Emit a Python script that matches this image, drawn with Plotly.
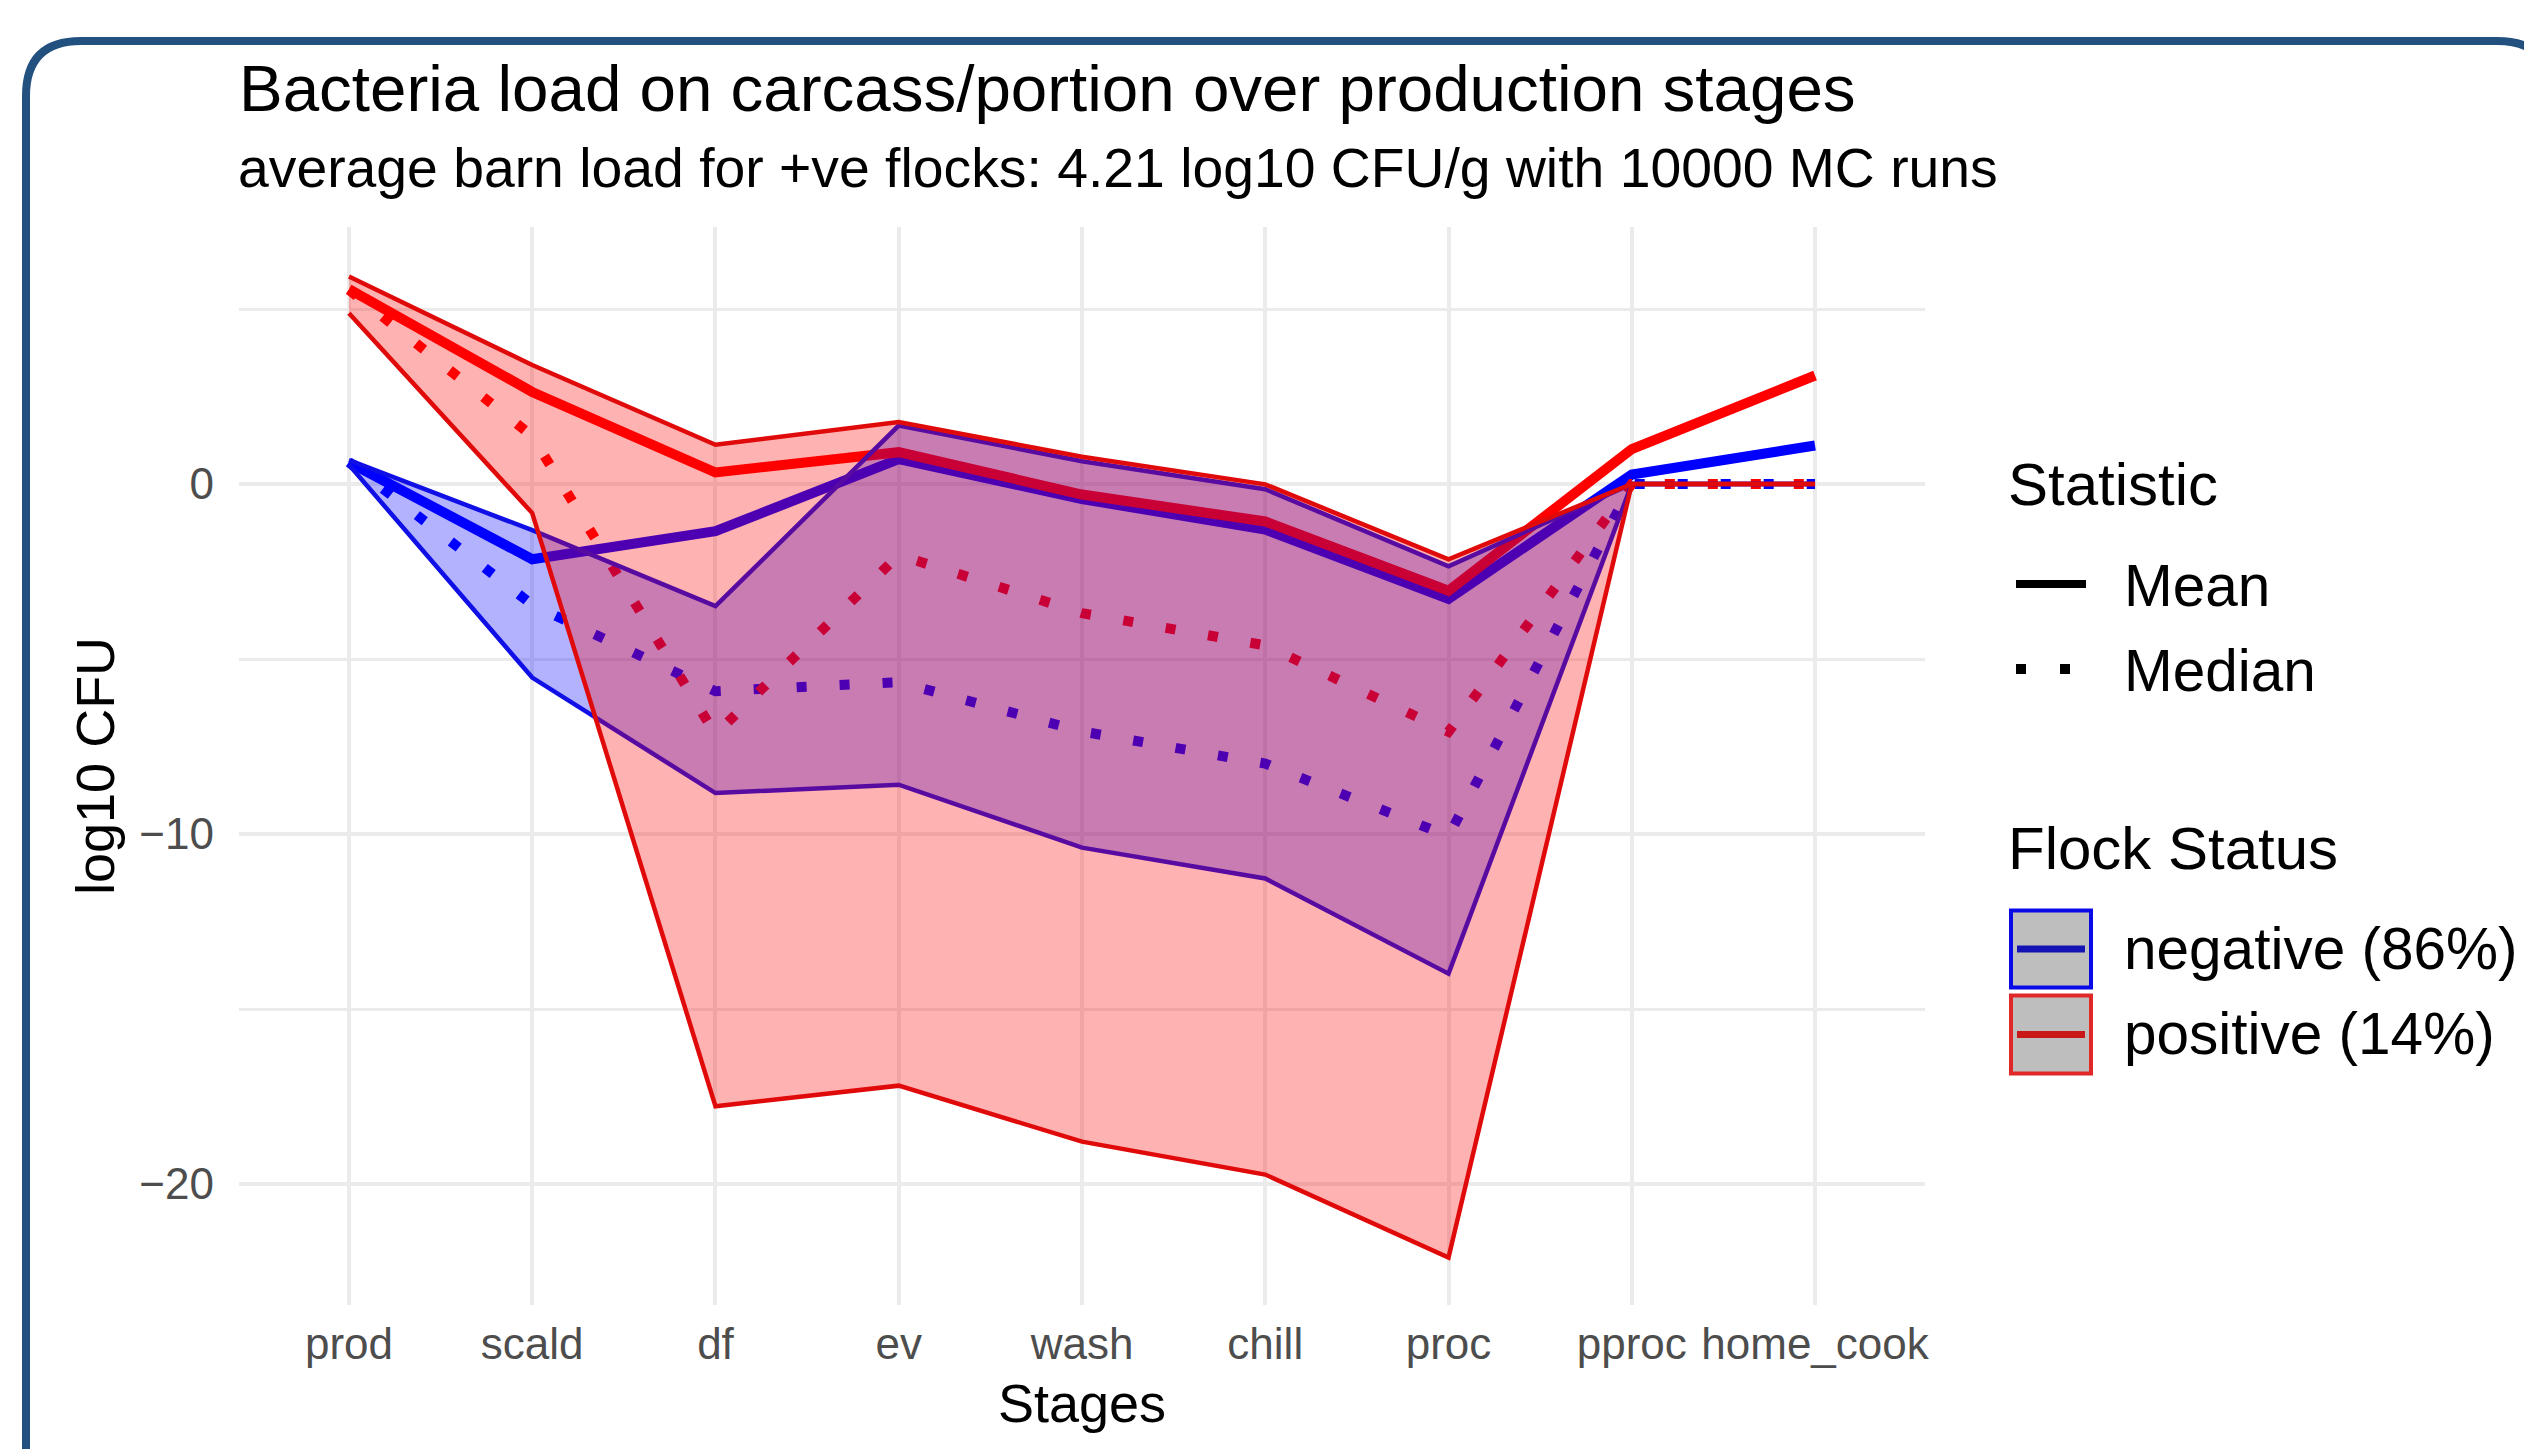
import plotly.graph_objects as go

# ---------------- data ----------------
stages = ["prod", "scald", "df", "ev", "wash", "chill", "proc", "pproc", "home_cook"]

neg_mean   = [0.62, -2.15, -1.35, 0.71, -0.43, -1.30, -3.28, 0.27, 1.10]
neg_median = [0.62, -3.45, -5.92, -5.66, -7.07, -7.99, -10.06, 0.0, 0.0]
neg_lower  = [0.55, -5.53, -8.83, -8.59, -10.39, -11.27, -13.99, 0.0, 0.0]
neg_upper  = [0.68, -1.32, -3.49, 1.67, 0.65, -0.15, -2.35, 0.0, 0.0]

pos_mean   = [5.57, 2.63, 0.33, 0.91, -0.30, -1.07, -3.05, 1.00, 3.10]
pos_median = [5.55, 1.37, -7.15, -2.03, -3.69, -4.61, -7.08, 0.0, 0.0]
pos_lower  = [4.88, -0.83, -17.78, -17.19, -18.79, -19.73, -22.10, 0.0, 0.0]
pos_upper  = [5.93, 3.40, 1.12, 1.77, 0.78, -0.01, -2.15, 0.0, 0.0]

y_ticks = [-20, -10, 0]
y_minor = [-15, -5, 5]

title_text = "Bacteria load on carcass/portion over production stages"
subtitle_text = "average barn load for +ve flocks: 4.21 log10 CFU/g with 10000 MC runs"
stat_title = "Statistic"
stat_labels = ["Mean", "Median"]
flock_title = "Flock Status"
flock_labels = ["negative (86%)", "positive (14%)"]

# ---------------- style ----------------
FONT = "Liberation Sans, Arial, sans-serif"
BLUE = "#0000FF"
RED = "#FF0000"
BLUE_OUT = "#1010E6"
RED_OUT = "#E00A0A"
MEAN_W = 10
MED_W = 10
MED_DASH = "10px,33px"
OUT_W = 4.5

# page is offset by the default 8px body margin
OFF = 8
PAGE_W, PAGE_H = 2532, 1449
WIDTH, HEIGHT = PAGE_W - OFF, PAGE_H - OFF
L, R, T, B = 239, 1925, 227, 1305          # plot area in page pixels
PW, PH = R - L, B - T


def px(x):
    return (x - L) / PW


def py(y):
    return (B - y) / PH


fig = go.Figure()

# lines first (ribbons drawn above them tint them, as in the original)
fig.add_trace(go.Scatter(x=stages, y=neg_mean, mode="lines",
                         line=dict(color=BLUE, width=MEAN_W), hoverinfo="skip", showlegend=False))
fig.add_trace(go.Scatter(x=stages, y=neg_median, mode="lines",
                         line=dict(color=BLUE, width=MED_W, dash=MED_DASH), hoverinfo="skip", showlegend=False))
fig.add_trace(go.Scatter(x=stages, y=pos_mean, mode="lines",
                         line=dict(color=RED, width=MEAN_W), hoverinfo="skip", showlegend=False))
fig.add_trace(go.Scatter(x=stages, y=pos_median, mode="lines",
                         line=dict(color=RED, width=MED_W, dash=MED_DASH), hoverinfo="skip", showlegend=False))

# ribbons
fig.add_trace(go.Scatter(x=stages, y=neg_lower, mode="lines",
                         line=dict(color=BLUE_OUT, width=OUT_W), hoverinfo="skip", showlegend=False))
fig.add_trace(go.Scatter(x=stages, y=neg_upper, mode="lines", fill="tonexty",
                         fillcolor="rgba(0,0,255,0.3)",
                         line=dict(color=BLUE_OUT, width=OUT_W), hoverinfo="skip", showlegend=False))
fig.add_trace(go.Scatter(x=stages, y=pos_lower, mode="lines",
                         line=dict(color=RED_OUT, width=OUT_W), hoverinfo="skip", showlegend=False))
fig.add_trace(go.Scatter(x=stages, y=pos_upper, mode="lines", fill="tonexty",
                         fillcolor="rgba(255,0,0,0.3)",
                         line=dict(color=RED_OUT, width=OUT_W), hoverinfo="skip", showlegend=False))

GRID = "#EBEBEB"
fig.update_xaxes(type="category", range=[-0.6, len(stages) - 0.4],
                 showgrid=True, gridcolor=GRID, gridwidth=3.5,
                 zeroline=False, showline=False, ticks="",
                 tickfont=dict(family=FONT, size=44, color="#4D4D4D"),
                 ticklabelstandoff=9)
fig.update_yaxes(range=[-23.457, 7.343], tickmode="array", tickvals=y_ticks,
                 showgrid=True, gridcolor=GRID, gridwidth=3.5,
                 zeroline=False, showline=False, ticks="",
                 tickfont=dict(family=FONT, size=44, color="#4D4D4D"),
                 ticklabelstandoff=24,
                 minor=dict(tickmode="array", tickvals=y_minor, showgrid=True,
                            gridcolor=GRID, gridwidth=2.5, ticks=""))

ann = []


def text(t, x, y, size, xanchor="left", yanchor="middle", angle=0, color="black"):
    ann.append(dict(text=t, x=px(x), y=py(y), xref="paper", yref="paper",
                    xanchor=xanchor, yanchor=yanchor, showarrow=False, textangle=angle,
                    font=dict(family=FONT, size=size, color=color)))


# title, subtitle
text(title_text, 236.5, 88, 65.5)
text(subtitle_text, 236, 168, 55.3)
# axis titles
text("Stages", 1082, 1403, 54, xanchor="center")
text("log10 CFU", 95, 766, 54, xanchor="center", angle=-90)

# legend
text(stat_title, 2006, 485, 60)
text(stat_labels[0], 2121.5, 585.5, 58.5)
text(stat_labels[1], 2121.5, 670, 58.5)
text(flock_title, 2005.6, 848, 60)
text(flock_labels[0], 2121.6, 948.5, 58.5)
text(flock_labels[1], 2121.6, 1033, 58.5)

shapes = []
# Statistic keys
shapes.append(dict(type="line", xref="paper", yref="paper",
                   x0=px(2016), x1=px(2086), y0=py(584), y1=py(584),
                   line=dict(color="black", width=8)))
for dx in (2016, 2060):
    shapes.append(dict(type="rect", xref="paper", yref="paper",
                       x0=px(dx), x1=px(dx + 10), y0=py(664), y1=py(674),
                       fillcolor="black", line=dict(width=0)))
# Flock keys
for (top, bot, border, inner) in [(909, 989, "#0A0AE6", "#1414B4"), (994, 1075, "#E02828", "#C81818")]:
    shapes.append(dict(type="rect", xref="paper", yref="paper",
                       x0=px(2011), x1=px(2091), y0=py(bot - 1.5), y1=py(top + 1.5),
                       fillcolor="#BEBEBE", line=dict(color=border, width=4)))
    mid = (top + bot) / 2
    shapes.append(dict(type="line", xref="paper", yref="paper",
                       x0=px(2017), x1=px(2085), y0=py(mid), y1=py(mid),
                       line=dict(color=inner, width=7)))

# decorative rounded frame
fx0, fy0, fx1, rad = 26, 41, 2552, 55
path = (f"M {px(fx0)},{py(1480)} L {px(fx0)},{py(fy0 + rad)} "
        f"Q {px(fx0)},{py(fy0)} {px(fx0 + rad)},{py(fy0)} "
        f"L {px(fx1 - rad)},{py(fy0)} Q {px(fx1)},{py(fy0)} {px(fx1)},{py(fy0 + rad)} "
        f"L {px(fx1)},{py(1480)}")
shapes.append(dict(type="path", xref="paper", yref="paper", path=path,
                   line=dict(color="#22507F", width=8)))

fig.update_layout(width=WIDTH, height=HEIGHT,
                  margin=dict(l=L - OFF, r=WIDTH - (R - OFF), t=T - OFF, b=HEIGHT - (B - OFF),
                              autoexpand=False),
                  paper_bgcolor="white", plot_bgcolor="white",
                  showlegend=False, annotations=ann, shapes=shapes,
                  font=dict(family=FONT))

fig.write_html("out.html")
